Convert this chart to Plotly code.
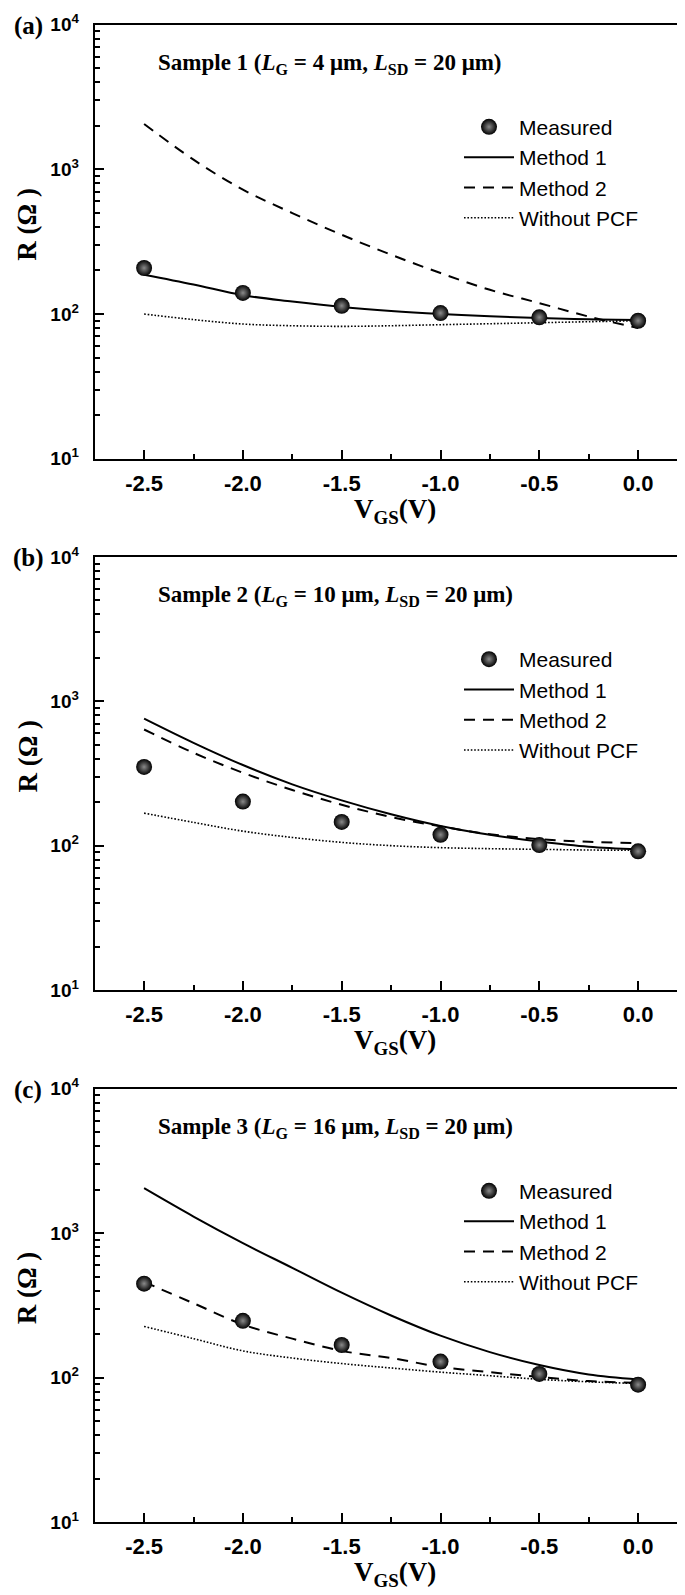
import plotly.graph_objects as go

# ---------------- data ----------------
vgs_meas = [-2.5, -2.0, -1.5, -1.0, -0.5, 0.0]
vgs_fit = [-2.5, -2.25, -2.0, -1.75, -1.5, -1.25, -1.0, -0.75, -0.5, -0.25, 0.0]

# Sample 1
meas_1 = [208, 140, 114, 101.6, 94.9, 89.9]
method1_1 = [187, 160, 135, 122, 112, 105, 100, 96.4, 94, 91.9, 91]
method2_1 = [2061, 1167, 724, 499, 353, 257, 192, 147, 119, 96, 80]
nopcf_1 = [100, 91.5, 85.3, 83, 82.2, 83, 84.4, 85.7, 87.1, 88.5, 89.9]

# Sample 2
meas_2 = [351, 202, 146, 119, 101, 91.4]
method1_2 = [759, 516, 362, 266, 206, 165, 137, 119, 107, 98.4, 94.3]
method2_2 = [638, 440, 320, 243, 192, 158, 136, 120, 111, 106.5, 104.3]
nopcf_2 = [168, 145, 126, 114, 105.4, 100, 96.9, 95.3, 94.3, 93.3, 92.9]

# Sample 3
meas_3 = [447, 247, 168, 129, 106, 89.3]
method1_3 = [2047, 1303, 853, 575, 387, 269, 195, 150, 122, 105, 97]
method2_3 = [459, 327, 233, 186, 153, 136.5, 118.5, 109, 101, 94.5, 92]
nopcf_3 = [226, 186, 153, 136.5, 125, 116.5, 109, 103, 97.2, 93.5, 90.9]

panel_labels = ["(a)", "(b)", "(c)"]
sample_titles = [
    "Sample 1 (<i>L</i><sub>G</sub> = 4 μm, <i>L</i><sub>SD</sub> = 20 μm)",
    "Sample 2 (<i>L</i><sub>G</sub> = 10 μm, <i>L</i><sub>SD</sub> = 20 μm)",
    "Sample 3 (<i>L</i><sub>G</sub> = 16 μm, <i>L</i><sub>SD</sub> = 20 μm)",
]
series_names = ["Measured", "Method 1", "Method 2", "Without PCF"]
x_tickvals = [-2.5, -2.0, -1.5, -1.0, -0.5, 0.0]
x_ticktext = ["-2.5", "-2.0", "-1.5", "-1.0", "-0.5", "0.0"]
y_tickvals = [10, 100, 1000, 10000]
y_ticktext = ["10<sup>1</sup>", "10<sup>2</sup>", "10<sup>3</sup>", "10<sup>4</sup>"]

samples = [
    (meas_1, method1_1, method2_1, nopcf_1),
    (meas_2, method1_2, method2_2, nopcf_2),
    (meas_3, method1_3, method2_3, nopcf_3),
]

# ---------------- layout geometry ----------------
W, H = 685, 1595
x_left, x_right = 86.7, 679.5
panel_px = [(16.7, 450.7), (549.0, 982.0), (1080.7, 1514.0)]  # (top, bottom) px

def py(p):
    return 1 - p / H

def px(p):
    return p / W

SANS = "Liberation Sans, Arial, sans-serif"
SERIF = "Liberation Serif, Times New Roman, serif"

fig = go.Figure()

for i, (meas, m1, m2, wo) in enumerate(samples):
    xa = "x" if i == 0 else f"x{i+1}"
    ya = "y" if i == 0 else f"y{i+1}"
    lg = "legend" if i == 0 else f"legend{i+1}"
    fig.add_trace(go.Scatter(
        x=vgs_fit, y=m1, mode="lines", name=series_names[1], xaxis=xa, yaxis=ya,
        legend=lg, legendrank=2, line=dict(color="black", width=2, shape="spline")))
    fig.add_trace(go.Scatter(
        x=vgs_fit, y=m2, mode="lines", name=series_names[2], xaxis=xa, yaxis=ya,
        legend=lg, legendrank=3, line=dict(color="black", width=2, dash="11px,8px", shape="spline")))
    fig.add_trace(go.Scatter(
        x=vgs_fit, y=wo, mode="lines", name=series_names[3], xaxis=xa, yaxis=ya,
        legend=lg, legendrank=4, line=dict(color="black", width=1.6, dash="1.6px,1.8px", shape="spline")))
    fig.add_trace(go.Scatter(
        x=vgs_meas, y=meas, mode="markers", name=series_names[0], xaxis=xa, yaxis=ya,
        legend=lg, legendrank=1,
        marker=dict(size=16, color="#000000", line=dict(width=0),
                    gradient=dict(type="radial", color="#8a8a8a"))))

layout = dict(
    width=W, height=H,
    margin=dict(l=0, r=0, t=0, b=0),
    paper_bgcolor="white", plot_bgcolor="white",
    showlegend=True,
)

minor_y = [m * 10 ** e for e in (1, 2, 3) for m in range(2, 10)]
minor_x = [-2.25, -1.75, -1.25, -0.75, -0.25]

annotations = []
for i, (top, bot) in enumerate(panel_px):
    sx = "" if i == 0 else str(i + 1)
    layout[f"xaxis{sx}"] = dict(
        domain=[px(x_left), px(x_right)], range=[-2.75, 0.25],
        anchor=f"y{sx}", showgrid=False, zeroline=False,
        showline=True, linecolor="black", linewidth=2, mirror=True,
        ticks="inside", ticklen=9, tickwidth=2, tickcolor="black",
        tickmode="array", tickvals=x_tickvals, ticktext=x_ticktext,
        tickfont=dict(family=SANS, size=22, color="black", weight="bold"),
        ticklabelstandoff=4,
        minor=dict(tickmode="array", tickvals=minor_x, ticks="inside", ticklen=5,
                   tickwidth=2, tickcolor="black"),
        automargin=False,
    )
    layout[f"yaxis{sx}"] = dict(
        domain=[py(bot), py(top)], type="log", range=[1, 4],
        anchor=f"x{sx}", showgrid=False, zeroline=False,
        showline=True, linecolor="black", linewidth=2, mirror=True,
        ticks="inside", ticklen=9, tickwidth=2, tickcolor="black",
        tickmode="array", tickvals=y_tickvals, ticktext=y_ticktext,
        tickfont=dict(family=SANS, size=19, color="black", weight="bold"),
        ticklabelstandoff=10,
        minor=dict(tickmode="array", tickvals=minor_y, ticks="inside", ticklen=5,
                   tickwidth=1.5, tickcolor="black"),
        automargin=False,
    )
    lgname = "legend" if i == 0 else f"legend{i+1}"
    layout[lgname] = dict(
        x=px(451), xanchor="left", y=py(top + 82), yanchor="top",
        bgcolor="rgba(0,0,0,0)", borderwidth=0,
        font=dict(family=SANS, size=21, color="black"),
        itemsizing="trace", itemwidth=50,
    )
    # panel label
    annotations.append(dict(
        text=f"<b>{panel_labels[i]}</b>", x=px(20), y=py(top + 1), xref="paper", yref="paper",
        xanchor="center", yanchor="middle", showarrow=False,
        font=dict(family=SERIF, size=25, color="black")))
    # sample title
    annotations.append(dict(
        text=f"<b>{sample_titles[i]}</b>", x=px(148), y=py(top + 39), xref="paper", yref="paper",
        xanchor="left", yanchor="middle", showarrow=False,
        font=dict(family=SERIF, size=23, color="black")))
    # y title
    annotations.append(dict(
        text="<b>R (Ω )</b>", x=px(19), y=py((top + bot) / 2 - 17), xref="paper", yref="paper",
        xanchor="center", yanchor="middle", textangle=-90, showarrow=False,
        font=dict(family=SERIF, size=27, color="black")))
    # x title
    annotations.append(dict(
        text="<b>V<sub>GS</sub>(V)</b>", x=px(387), y=py(bot + 52), xref="paper", yref="paper",
        xanchor="center", yanchor="middle", showarrow=False,
        font=dict(family=SERIF, size=27, color="black")))

layout["annotations"] = annotations
fig.update_layout(**layout)

fig.write_html("out.html")
